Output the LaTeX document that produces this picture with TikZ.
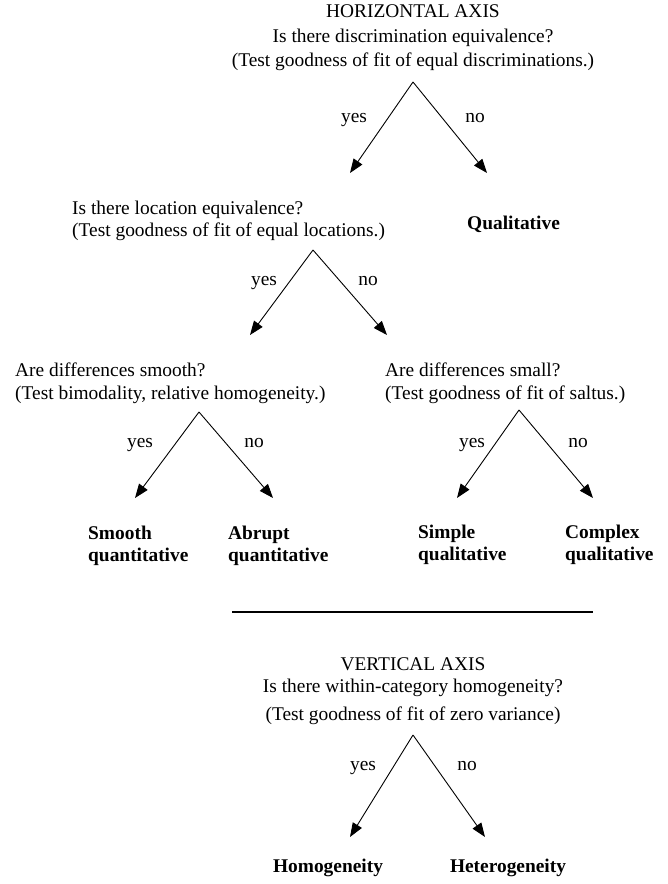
\documentclass[tikz,border=0pt]{standalone}
\usepackage{fontspec}
\setmainfont{Liberation Serif}
\usetikzlibrary{arrows.meta}
\tikzset{
  txt/.style={inner sep=0pt, font=\fontsize{19.4}{23}\selectfont},
  ltxt/.style={txt, anchor=west, align=left},
  ctxt/.style={txt, align=center},
  btxt/.style={ltxt, font=\fontsize{19.4}{22.5}\selectfont\bfseries},
  lbl/.style={txt, text height=0.68em, text depth=0.22em},
  branch/.style={line width=0.9pt, -{Triangle[length=14pt,width=10.5pt]}},
  rule/.style={line width=1.1pt}
}
\begin{document}
\begin{tikzpicture}[x=1pt,y=-1pt]
\useasboundingbox (0,0) rectangle (668,884);

% top question
\node[ctxt, font=\fontsize{19.4}{24.5}\selectfont] (h1) at (413,38) {HORIZONTAL AXIS\\Is there discrimination equivalence?\\(Test goodness of fit of equal discriminations.)};
\coordinate (a1) at (413,82);
\coordinate (a1y) at (350,173);
\coordinate (a1n) at (487,173);
\draw[branch] (a1) -- (a1y);
\draw[branch] (a1) -- (a1n);
\node[lbl] (y1) at (354,120) {yes};
\node[lbl] (n1) at (475,120) {no};
\node[btxt, lbl, anchor=west] (qual) at (467,227) {\bfseries Qualitative};

% location question
\node[ltxt, font=\fontsize{19.4}{22}\selectfont] (loc) at (72,221) {Is there location equivalence?\\(Test goodness of fit of equal locations.)};
\coordinate (a2) at (313,250);
\coordinate (a2y) at (250,335);
\coordinate (a2n) at (387,335);
\draw[branch] (a2) -- (a2y);
\draw[branch] (a2) -- (a2n);
\node[lbl] (y2) at (264,283) {yes};
\node[lbl] (n2) at (368,283) {no};

% smooth question
\node[ltxt] (smq) at (15,383.5) {Are differences smooth?\\(Test bimodality, relative homogeneity.)};
\coordinate (a3) at (199,412);
\coordinate (a3y) at (135,498);
\coordinate (a3n) at (273,498);
\draw[branch] (a3) -- (a3y);
\draw[branch] (a3) -- (a3n);
\node[lbl] (y3) at (140,445) {yes};
\node[lbl] (n3) at (254,445) {no};
\node[btxt] (smooth) at (88,546) {Smooth\\quantitative};
\node[btxt] (abrupt) at (228,546) {Abrupt\\quantitative};

% small question
\node[ltxt] (slq) at (385,383.5) {Are differences small?\\(Test goodness of fit of saltus.)};
\coordinate (a4) at (519,410);
\coordinate (a4y) at (457,498);
\coordinate (a4n) at (593,498);
\draw[branch] (a4) -- (a4y);
\draw[branch] (a4) -- (a4n);
\node[lbl] (y4) at (472,445) {yes};
\node[lbl] (n4) at (578,445) {no};
\node[btxt] (simple) at (418,545) {Simple\\qualitative};
\node[btxt] (complex) at (565,545) {Complex\\qualitative};

% separator
\coordinate (s1) at (232,612);
\coordinate (s2) at (593,612);
\draw[rule] (s1) -- (s2);

% vertical axis
\node[ctxt, font=\fontsize{19.4}{22}\selectfont] (v1) at (413,691) {VERTICAL AXIS\\Is there within-category homogeneity?\\[6pt](Test goodness of fit of zero variance)};
\coordinate (a5) at (413,735);
\coordinate (a5y) at (350,837);
\coordinate (a5n) at (485,837);
\draw[branch] (a5) -- (a5y);
\draw[branch] (a5) -- (a5n);
\node[lbl] (y5) at (363,768) {yes};
\node[lbl] (n5) at (467,768) {no};
\node[lbl, font=\fontsize{19.4}{23}\selectfont\bfseries] (homo) at (328,870) {Homogeneity};
\node[lbl, font=\fontsize{19.4}{23}\selectfont\bfseries] (hetero) at (508,870) {Heterogeneity};
\end{tikzpicture}
\end{document}
